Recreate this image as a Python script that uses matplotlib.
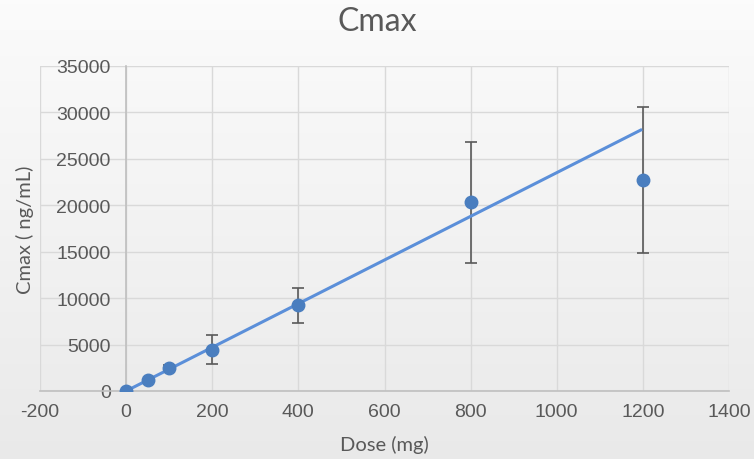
import numpy as np
import matplotlib
matplotlib.use("Agg")
from matplotlib import pyplot as plt

plt.rcParams['axes.unicode_minus'] = False

# data
dose = [0, 50, 100, 200, 400, 800, 1200]
cmax = [0, 1180, 2480, 4420, 9270, 20370, 22740]
err_low = [0, 0, 300, 1510, 1940, 6580, 7870]
err_high = [0, 0, 300, 1610, 1830, 6460, 7860]
trend_x = [0, 1195]
trend_y = [0, 28100]

x_ticks = list(range(-200, 1401, 200))
y_ticks = list(range(0, 35001, 5000))

text_col = '#595959'
tick_font = ['Liberation Sans', 'DejaVu Sans']
label_font = ['Lato', 'DejaVu Sans']

fig = plt.figure(figsize=(7.54, 4.6), dpi=100)

# light vertical gradient behind everything
bg = fig.add_axes([0, 0, 1, 1], zorder=-10)
grad = np.linspace(0.985, 0.915, 256).reshape(-1, 1)
bg.imshow(np.dstack([grad, grad, grad]), aspect='auto', extent=[0, 1, 0, 1])
bg.axis('off')

ax = fig.add_axes([40 / 754, 68 / 460, 689 / 754, 325 / 460])
ax.patch.set_alpha(0)

# trend line
ax.plot(trend_x, trend_y, color='#5b8fd9', lw=2.2, zorder=3)

# error bars and points
ax.errorbar(dose, cmax, yerr=[err_low, err_high], fmt='none',
            ecolor='#595959', elinewidth=1.2, capsize=4.5, capthick=1.2, zorder=2)
ax.plot(dose, cmax, 'o', color='#4a7ebf', ms=9, zorder=4)

ax.set_xlim(-200, 1400)
ax.set_ylim(0, 35000)
ax.set_xticks(x_ticks)
ax.set_yticks(y_ticks)
ax.grid(True, color='#d9d9d9', lw=1)
ax.set_axisbelow(True)

for s in ['top', 'right']:
    ax.spines[s].set_visible(False)
ax.spines['left'].set_position(('data', 0))
ax.spines['left'].set_color('#bfbfbf')
ax.spines['bottom'].set_color('#bfbfbf')
ax.spines['left'].set_linewidth(1.2)
ax.spines['bottom'].set_linewidth(1.2)

ax.tick_params(axis='both', length=0, colors=text_col, labelsize=14)
ax.tick_params(axis='y', pad=11)
ax.tick_params(axis='x', pad=9)
for lab in ax.get_xticklabels() + ax.get_yticklabels():
    lab.set_family(tick_font)

ax.set_xlabel('Dose (mg)', fontsize=14.5, color=text_col, family=label_font)
ax.xaxis.set_label_coords(0.5, -0.135)
ax.set_ylabel('Cmax ( ng/mL)', fontsize=14.5, color=text_col, family=label_font)
ax.yaxis.set_label_coords(-0.008, 0.5)

fig.text(0.5, 0.952, 'Cmax', ha='center', va='center', fontsize=23,
         color=text_col, family=label_font)

fig.savefig('out.png', dpi=100)
